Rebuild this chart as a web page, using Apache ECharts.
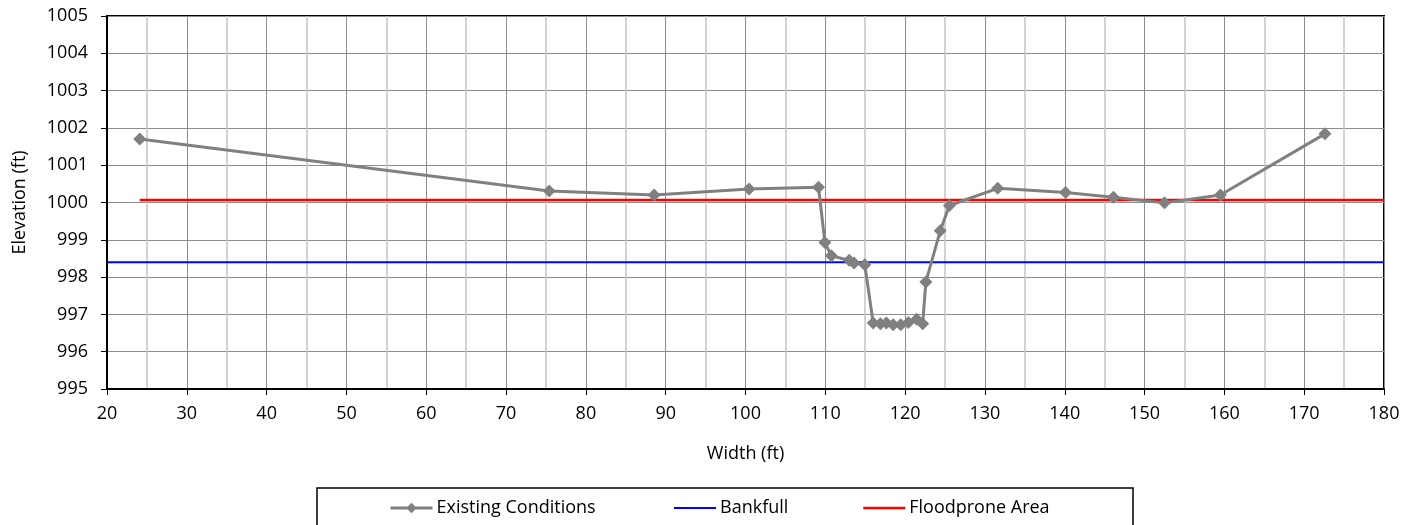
<!DOCTYPE html>
<html>
<head>
<meta charset="utf-8">
<title>Cross Section</title>
<script src="https://cdn.jsdelivr.net/npm/echarts@6/dist/echarts.min.js"></script>
<style>
  html, body { margin: 0; padding: 0; background: #fff; }
  #chart { width: 1419px; height: 525px; }
</style>
</head>
<body>
<div id="chart"></div>
<script>
// Surveyed station (ft) and ground elevation (ft) along the cross section
const stations = [24.1, 75.4, 88.55, 100.45, 109.15, 109.95, 110.75, 113.0, 113.6, 114.95,
  116.0, 116.9, 117.65, 118.5, 119.45, 120.4, 121.45, 122.2, 122.6, 124.4, 125.55,
  131.6, 140.1, 146.1, 152.5, 159.5, 172.6];
const elevations = [1001.70, 1000.31, 1000.20, 1000.36, 1000.41, 998.93, 998.57, 998.45, 998.38, 998.33,
  996.77, 996.75, 996.77, 996.72, 996.72, 996.78, 996.87, 996.75, 997.87, 999.24, 999.92,
  1000.38, 1000.27, 1000.14, 999.99, 1000.20, 1001.84];

// Reference water surfaces: [start station, end station] at a constant elevation
const bankfullStations = [20, 180];
const bankfullElevation = 998.40;
const floodproneStations = [24.1, 180];
const floodproneElevation = 1000.07;

const seriesNames = ['Existing Conditions', 'Bankfull', 'Floodprone Area'];

const FONT = '"Open Sans", "Noto Sans", sans-serif';
const textStyle = { fontFamily: FONT, fontSize: 18, color: '#000' };

const chart = echarts.init(document.getElementById('chart'), null, { renderer: 'canvas' });

// One legend block per entry so each sits at its own spot in the framed strip
const legendAt = (name, left, hideSymbol, lineWidth) => ({
  data: [{
    name: name,
    itemStyle: hideSymbol ? { opacity: 0 } : {},
    lineStyle: { width: lineWidth }
  }],
  left: left,
  top: 499,
  itemWidth: 42,
  itemHeight: 13,
  itemGap: 0,
  padding: 0,
  textStyle: Object.assign({}, textStyle, { padding: [0, 0, 0, -1] })
});

chart.setOption({
  animation: false,
  backgroundColor: '#fff',
  textStyle: textStyle,
  grid: {
    left: 107, right: 35, top: 16, bottom: 136,
    show: true, borderColor: '#000', borderWidth: 2, backgroundColor: 'transparent'
  },
  xAxis: {
    type: 'value',
    min: 20, max: 180, interval: 10,
    name: 'Width (ft)',
    nameLocation: 'middle',
    nameGap: 56,
    nameTextStyle: textStyle,
    axisLine: { show: true, onZero: false, lineStyle: { color: '#000', width: 2 } },
    axisTick: { show: true, inside: false, length: 6, lineStyle: { color: '#000', width: 1 } },
    axisLabel: Object.assign({ margin: 16, formatter: v => String(v) }, textStyle),
    splitLine: { show: true, lineStyle: { color: '#8c8c8c', width: 1 } },
    minorTick: { show: false, splitNumber: 2 },
    minorSplitLine: { show: true, lineStyle: { color: '#c4c4c4', width: 1.5 } }
  },
  yAxis: {
    type: 'value',
    min: 995, max: 1005, interval: 1,
    name: 'Elevation (ft)',
    nameLocation: 'middle',
    nameGap: 78,
    nameRotate: 90,
    nameTextStyle: textStyle,
    axisLine: { show: true, onZero: false, lineStyle: { color: '#000', width: 2 } },
    axisTick: { show: true, inside: false, length: 6, lineStyle: { color: '#000', width: 1 } },
    axisLabel: Object.assign({ margin: 19, formatter: v => String(v) }, textStyle),
    splitLine: { show: true, lineStyle: { color: '#8c8c8c', width: 1 } }
  },
  legend: [
    legendAt(seriesNames[0], 389, false, 3),
    legendAt(seriesNames[1], 673, true, 2),
    legendAt(seriesNames[2], 862, true, 2.5)
  ],
  graphic: [{
    type: 'rect',
    shape: { x: 317, y: 488, width: 816, height: 60 },
    style: { fill: 'transparent', stroke: '#000', lineWidth: 1.5 },
    silent: true
  }],
  series: [
    {
      name: seriesNames[1],
      type: 'line',
      data: bankfullStations.map(x => [x, bankfullElevation]),
      showSymbol: false,
      lineStyle: { color: '#0000ff', width: 2 },
      itemStyle: { color: '#0000ff' },
      z: 3
    },
    {
      name: seriesNames[2],
      type: 'line',
      data: floodproneStations.map(x => [x, floodproneElevation]),
      showSymbol: false,
      lineStyle: { color: '#ff0000', width: 2.5 },
      itemStyle: { color: '#ff0000' },
      z: 3
    },
    {
      name: seriesNames[0],
      type: 'line',
      data: stations.map((x, i) => [x, elevations[i]]),
      symbol: 'diamond',
      symbolSize: 13,
      showAllSymbol: true,
      lineStyle: { color: '#808080', width: 3 },
      itemStyle: { color: '#808080', borderWidth: 0 },
      z: 4
    }
  ]
});
</script>
</body>
</html>
